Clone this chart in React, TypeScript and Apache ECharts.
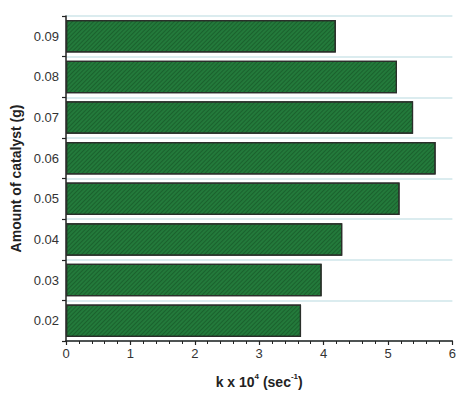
import React, { useEffect, useRef } from "react";
import * as echarts from "echarts";

const categories = ["0.02", "0.03", "0.04", "0.05", "0.06", "0.07", "0.08", "0.09"];
const kValues = [3.65, 3.97, 4.29, 5.18, 5.74, 5.39, 5.14, 4.19];
const xTicks = [0, 1, 2, 3, 4, 5, 6];

export default function App() {
  const ref = useRef<HTMLDivElement>(null);
  useEffect(() => {
    if (!ref.current) return;
    const chart = echarts.init(ref.current, null, { renderer: "svg" });
    chart.setOption({
      animation: false,
      backgroundColor: "#ffffff",
      textStyle: { fontFamily: "Liberation Sans, Arial, sans-serif" },
      grid: { left: 66, right: 3, top: 16, bottom: 49 },
      xAxis: {
        type: "value",
        min: xTicks[0],
        max: xTicks[xTicks.length - 1],
        interval: 1,
        name: "{a|k x 10}{sup|4}{a| (sec}{sup|-1}{a|)}",
        nameLocation: "middle",
        nameGap: 31,
        nameTextStyle: {
          rich: {
            a: { fontSize: 14, fontWeight: "bold", color: "#222", lineHeight: 17, verticalAlign: "bottom" },
            sup: { fontSize: 8, fontWeight: "bold", color: "#222", lineHeight: 17, verticalAlign: "top" },
          },
        },
        axisLine: { show: true, lineStyle: { color: "#222", width: 1.5 } },
        axisTick: { show: true, length: 4, lineStyle: { color: "#222", width: 1.2 } },
        minorTick: { show: true, splitNumber: 5, length: 3, lineStyle: { color: "#222", width: 1 } },
        axisLabel: { fontSize: 13, color: "#333", margin: 6 },
        splitLine: { show: false },
      },
      yAxis: {
        type: "category",
        data: categories,
        name: "Amount of catalyst (g)",
        nameLocation: "middle",
        nameGap: 42,
        nameTextStyle: { fontSize: 14, fontWeight: "bold", color: "#222" },
        axisLine: { show: true, lineStyle: { color: "#222", width: 1.5 } },
        axisTick: { show: true, length: 4, lineStyle: { color: "#222", width: 1.2 } },
        axisLabel: { fontSize: 13, color: "#333", margin: 7 },
        splitLine: { show: true, lineStyle: { color: "#cfe6ea", width: 1.5 } },
      },
      series: [
        {
          type: "bar",
          data: kValues,
          barCategoryGap: "20%",
          itemStyle: {
            color: "#237a3b",
            borderColor: "#2a2f2a",
            borderWidth: 1.2,
            decal: {
              color: "rgba(10,50,20,0.35)",
              dashArrayX: [1, 0],
              dashArrayY: [1, 2],
              rotation: -Math.PI / 4,
              symbolSize: 1,
            },
          },
        },
      ],
    });
    return () => chart.dispose();
  }, []);
  return (
    <div
      ref={ref}
      style={{ position: "absolute", left: 0, top: 0, width: 459, height: 394 }}
    />
  );
}
